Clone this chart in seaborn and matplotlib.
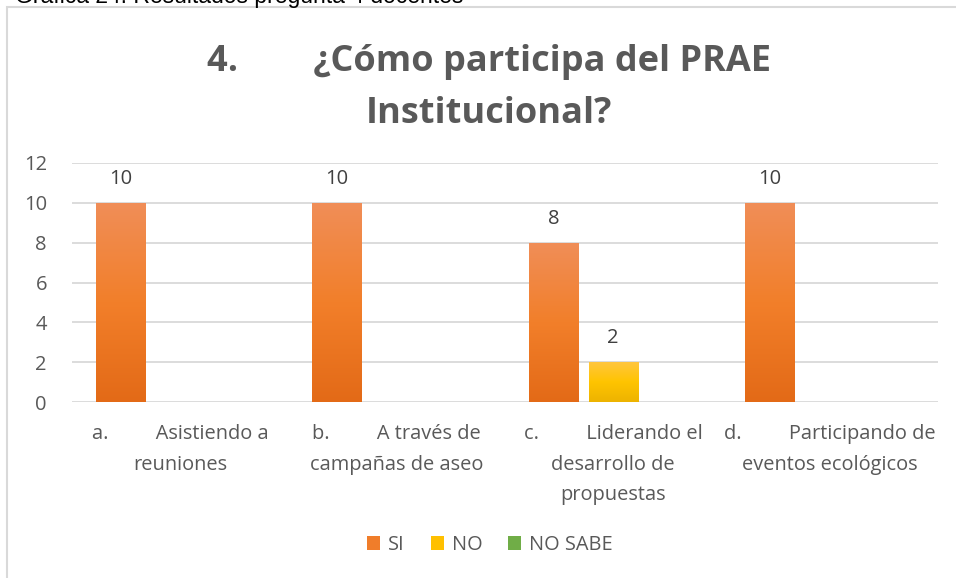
import numpy as np
import pandas as pd
import matplotlib
matplotlib.use("Agg")
import matplotlib.pyplot as plt
import seaborn as sns
from matplotlib.colors import LinearSegmentedColormap
from matplotlib.patches import Patch, Rectangle

# datos
categorias = ["a", "b", "c", "d"]
etiquetas = [
    "a.         Asistiendo a\nreuniones",
    "b.         A través de\ncampañas de aseo",
    "c.         Liderando el\ndesarrollo de\npropuestas",
    "d.         Participando de\neventos ecológicos",
]
respuestas = ["SI", "NO", "NO SABE"]
si = [10, 10, 8, 10]
no = [0, 0, 2, 0]
no_sabe = [0, 0, 0, 0]

df = pd.DataFrame({
    "categoria": categorias * 3,
    "respuesta": ["SI"] * 4 + ["NO"] * 4 + ["NO SABE"] * 4,
    "valor": si + no + no_sabe,
})

colores = {"SI": "#F07D2A", "NO": "#FFC000", "NO SABE": "#70AD47"}
gradientes = {
    "SI": LinearSegmentedColormap.from_list("si", ["#E36A17", "#F27F2A", "#F08E58"]),
    "NO": LinearSegmentedColormap.from_list("no", ["#EDB300", "#FFC400", "#FFC63E"]),
    "NO SABE": LinearSegmentedColormap.from_list("ns", ["#5F9B38", "#70AD47", "#84BA62"]),
}

sns.set_theme(style="white")
plt.rcParams["font.family"] = ["Open Sans", "DejaVu Sans"]

W, H = 956, 578
fig = plt.figure(figsize=(W / 100, H / 100), dpi=100)
ax = fig.add_axes([72 / W, (H - 402) / H, (938 - 72) / W, (402 - 163) / H])

sns.barplot(data=df, x="categoria", y="valor", hue="respuesta", hue_order=respuestas,
            order=categorias, palette=colores, width=0.83, gap=0.18, linewidth=0,
            errorbar=None, legend=False, ax=ax)

grad = np.linspace(0, 1, 256).reshape(-1, 1)
for i, cont in enumerate(ax.containers):
    cmap = gradientes[respuestas[i]]
    for bar in cont:
        h = bar.get_height()
        if h <= 0:
            continue
        x0 = bar.get_x()
        w = bar.get_width()
        img = ax.imshow(grad, extent=[x0, x0 + w, 0, h], origin="lower",
                        aspect="auto", cmap=cmap, zorder=bar.get_zorder() + 0.1)
        img.set_clip_path(bar)
    ax.bar_label(cont, labels=[f"{v:g}" if v > 0 else "" for v in cont.datavalues],
                 padding=10, fontsize=14.5, color="#404040")

ax.set_xlim(-0.5, 3.5)
ax.set_ylim(0, 12)
ax.set_yticks(range(0, 13, 2))
ax.yaxis.grid(True, color="#D9D9D9", linewidth=1.3)
ax.set_axisbelow(True)
for s in ax.spines.values():
    s.set_visible(False)
ax.set_xticks(range(4))
ax.set_xticklabels(etiquetas, fontsize=14.4, color="#595959", linespacing=1.7)
ax.tick_params(axis="x", length=0, pad=16)
ax.tick_params(axis="y", length=0, pad=18, labelsize=14.5, labelcolor="#595959")
ax.set_xlabel("")
ax.set_ylabel("")

fig.text(489 / W, 1 - 123 / H,
         "4.        ¿Cómo participa del PRAE\nInstitucional?",
         ha="center", va="baseline", fontsize=26, fontweight="bold",
         color="#595959", linespacing=1.6, multialignment="center")

fig.text(15 / W, 1 - 3 / H, "Gráfica 24. Resultados pregunta 4 docentes",
         va="baseline", fontsize=16.5, family="Liberation Sans", color="black")

fig.patches.append(Rectangle((7 / W, -0.1), 1.2, 1.1 - 7 / H, transform=fig.transFigure,
                             fill=False, edgecolor="#D9D9D9", linewidth=1.5))

handles = [Patch(facecolor=colores[r], edgecolor="none") for r in respuestas]
fig.legend(handles, respuestas, loc="center", bbox_to_anchor=(490 / W, 1 - 545 / H),
           ncol=3, frameon=False, fontsize=14.4, handlelength=0.65, handleheight=0.65,
           handletextpad=0.4, columnspacing=1.3, labelcolor="#595959")

fig.savefig("out.png", dpi=100)
